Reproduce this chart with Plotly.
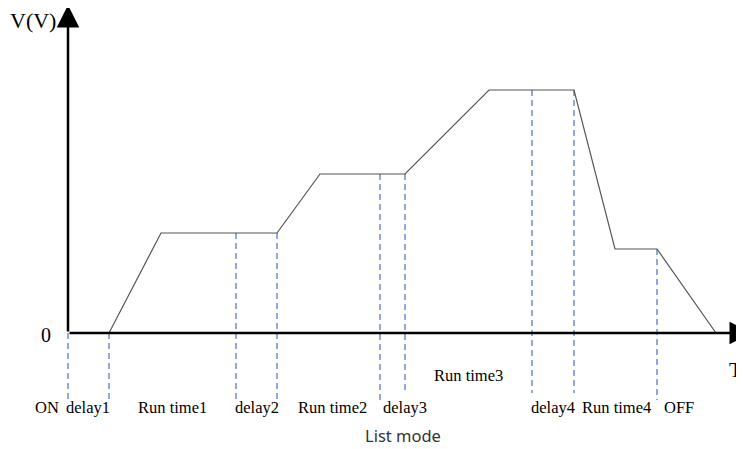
import numpy as np
import plotly.graph_objects as go

# output voltage profile in list mode (time and voltage in arbitrary units)
wave_t = [4.1, 9.3, 20.9, 25.2, 33.7, 42.1, 50.6, 54.7, 58.9, 64.8]
wave_v = [0, 10, 10, 15.9, 15.9, 24.3, 24.3, 8.4, 8.4, 0]

# step boundaries (blue dashed markers) and how far they reach below the axis
mark_t = [0, 4.1, 16.8, 20.9, 31.2, 33.7, 46.4, 50.6, 58.9]
mark_bottom = [-6.7, -6.7, -6.7, -6.7, -6.7, -5.7, -6.0, -6.0, -6.7]

# step labels under the time axis
step_labels = ["ON", "delay1", "Run time1", "delay2", "Run time2", "delay3",
               "delay4", "Run time4", "OFF"]
step_label_t = [-2.1, 2.0, 10.4, 18.9, 26.4, 33.7, 48.5, 54.8, 61.1]
mid_label = "Run time3"
mid_label_t = 40.0

SERIF = "Liberation Serif"

fig = go.Figure()

# dashed markers go from the curve down past the axis
mark_top = np.interp(mark_t, wave_t, wave_v, left=0)
for t, top, bot in zip(mark_t, mark_top, mark_bottom):
    fig.add_trace(go.Scatter(
        x=[t, t], y=[top, bot], mode="lines",
        line=dict(color="#4a6fc4", width=1.2, dash="6px,4px"),
        hoverinfo="skip", showlegend=False
    ))

fig.add_trace(go.Scatter(
    x=wave_t, y=wave_v, mode="lines",
    line=dict(color="#555555", width=1.2),
    showlegend=False
))

# axes drawn as arrows
fig.add_annotation(x=0, y=32.8, ax=0, ay=0, xref="x", yref="y", axref="x", ayref="y",
                   showarrow=True, arrowhead=2, arrowsize=1.8, arrowwidth=2.5,
                   arrowcolor="black", text="")
fig.add_annotation(x=68.4, y=0, ax=0, ay=0, xref="x", yref="y", axref="x", ayref="y",
                   showarrow=True, arrowhead=2, arrowsize=1.8, arrowwidth=2.5,
                   arrowcolor="black", text="")

txt = dict(family=SERIF, size=16.5, color="black")
for lab, t in zip(step_labels, step_label_t):
    fig.add_annotation(x=t, y=-7.4, text=lab, showarrow=False, font=txt)
fig.add_annotation(x=mid_label_t, y=-4.2, text=mid_label, showarrow=False, font=txt)

fig.add_annotation(x=-3.5, y=31.3, text="V(V)", showarrow=False,
                   font=dict(family=SERIF, size=22, color="black"))
fig.add_annotation(x=-2.2, y=-0.2, text="0", showarrow=False,
                   font=dict(family=SERIF, size=20, color="black"))
fig.add_annotation(x=66.0, y=-3.6, text="T", showarrow=False, xanchor="left",
                   borderpad=0,
                   font=dict(family=SERIF, size=22, color="black"))
fig.add_annotation(x=33.5, y=-10.2, text="List mode", showarrow=False,
                   font=dict(family="Noto Sans", size=16.5, color="#333333"))

# page has an 8px body margin: the figure is shrunk by it so nothing scrolls,
# and the ranges are chosen so the drawing lands where the reference has it
fig.update_xaxes(range=[-6.0, 67.6], visible=False)
fig.update_yaxes(range=[-11.6, 32.5], visible=False)
fig.update_layout(
    width=736, height=441,
    margin=dict(l=0, r=0, t=0, b=0),
    plot_bgcolor="white", paper_bgcolor="white",
    showlegend=False
)

fig.write_html("out.html")
